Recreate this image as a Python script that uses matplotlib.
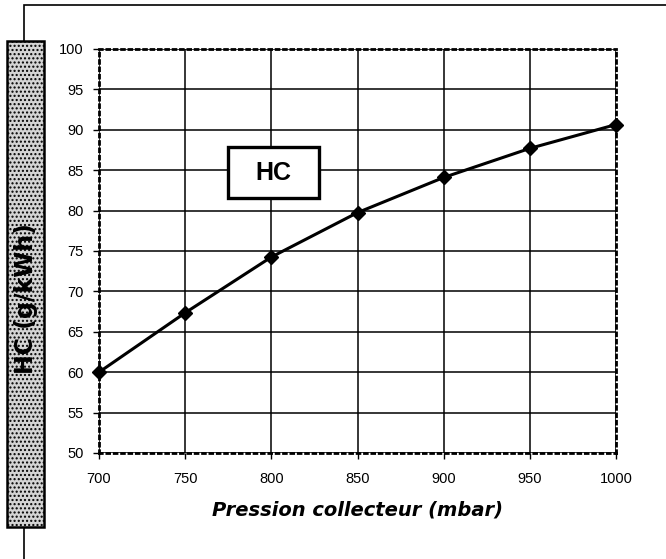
import matplotlib.pyplot as plt
from matplotlib.patches import Rectangle

plt.rcParams['font.family'] = ['Liberation Sans', 'DejaVu Sans']

# data
pression = [700, 750, 800, 850, 900, 950, 1000]
hc = [60.0, 67.35, 74.25, 79.75, 84.1, 87.7, 90.65]
xticks = [700, 750, 800, 850, 900, 950, 1000]
yticks = [50, 55, 60, 65, 70, 75, 80, 85, 90, 95, 100]

W, H = 666, 559
fig = plt.figure(figsize=(W / 100, H / 100), dpi=100)

# outer frame, partly hidden behind the grey label box
fig.patches.append(Rectangle((24 / W, -0.1), 1.0, 1.1 - 5 / H, transform=fig.transFigure,
                             fill=False, edgecolor='black', lw=1.2, zorder=0))

# grey y-label box
fig.patches.append(Rectangle((7 / W, 1 - 527 / H), 37 / W, 486 / H, transform=fig.transFigure,
                             facecolor='#d4d4d4', edgecolor='black', lw=1.8, hatch='....', zorder=1))
fig.text(26 / W, 1 - 299 / H, 'HC (g/kWh)', rotation=90, ha='center', va='center',
         fontsize=17, fontweight='bold', family='DejaVu Sans', zorder=2)

ax = fig.add_axes([99 / W, 1 - 453 / H, 517 / W, 404 / H])
ax.plot(pression, hc, color='black', lw=2.2, marker='D', markersize=7.5, zorder=3, clip_on=False)

ax.set_xlim(700, 1000)
ax.set_ylim(50, 100)
ax.set_xticks(xticks)
ax.set_yticks(yticks)
ax.grid(True, color='black', lw=1.1)
for s in ax.spines.values():
    s.set_linestyle(':')
    s.set_linewidth(2)
ax.tick_params(axis='both', labelsize=10.5, direction='out', length=4, width=1)
ax.tick_params(axis='y', pad=7)
ax.tick_params(axis='x', pad=10)

ax.set_xlabel('Pression collecteur (mbar)', fontsize=14, fontweight='bold', style='italic',
              family='DejaVu Sans', labelpad=10)

# "HC" label box
ax.add_patch(Rectangle((0.25, 0.631), 0.176, 0.126, transform=ax.transAxes,
                       facecolor='white', edgecolor='black', lw=2.4, zorder=4))
ax.text(0.338, 0.694, 'HC', transform=ax.transAxes, ha='center', va='center',
        fontsize=18, fontweight='bold', zorder=5)

fig.savefig('out.png', dpi=100)
